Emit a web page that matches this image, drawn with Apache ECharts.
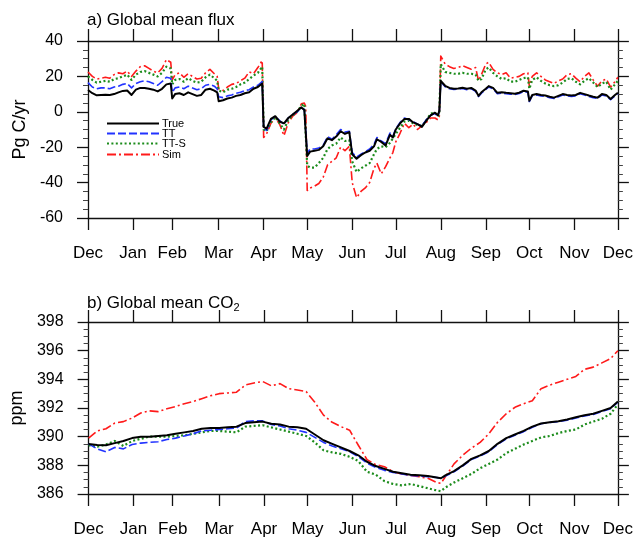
<!DOCTYPE html>
<html>
<head>
<meta charset="utf-8">
<script src="https://cdn.jsdelivr.net/npm/echarts@6/dist/echarts.min.js"></script>
<style>
  html, body { margin: 0; padding: 0; background: #fff; }
  #chart { width: 636px; height: 538px; }
</style>
</head>
<body>
<div id="chart"></div>
<script>
// Day offsets from 1 December; tick positions for the month boundaries
const monthTicks = [0, 31, 58, 90, 121, 151, 182, 212, 243, 274, 304, 335, 365];
const monthLabels = ['Dec', 'Jan', 'Feb', 'Mar', 'Apr', 'May', 'Jun', 'Jul', 'Aug', 'Sep', 'Oct', 'Nov', 'Dec'];

const fluxTicks = [-60, -40, -20, 0, 20, 40];
const co2Ticks = [386, 388, 390, 392, 394, 396, 398];

// Panel a) global mean flux (Pg C/yr)
const fluxDays = [
  0, 3, 6, 9, 12, 15, 18, 21, 24, 27, 30, 33, 36, 39, 42, 45, 48, 51, 54, 57,
  58, 60, 63, 66, 69, 72, 75, 78, 81, 84, 87, 89,
  90, 93, 96, 99, 102, 105, 108, 111, 114, 117, 120,
  121, 123, 126, 129, 132, 135, 138, 141, 144, 147, 149, 150,
  151, 153, 156, 159, 162, 165, 168, 171, 174, 177, 180, 181,
  182, 185, 188, 191, 194, 197, 199, 202, 205, 208, 210, 212,
  215, 218, 221, 224, 227, 230, 233, 236, 239, 241, 242,
  243, 246, 249, 252, 255, 258, 261, 264, 267, 269, 271, 274, 276, 279, 282, 285, 288, 291, 294, 297, 300, 303,
  304, 306, 309, 312, 315, 318, 321, 324, 327, 330, 333, 336, 339, 342, 345, 348, 351, 354, 357, 360, 363, 365
];
const fluxTrue = [
  12.3, 10.5, 9.3, 9.5, 9.7, 9.5, 10, 11, 11.8, 12, 9.5, 12.5, 13.5, 13.5, 13, 12.5, 11.5, 13, 15.5, 16,
  7.5, 10, 10.5, 9.5, 11, 10, 9, 9.5, 12.5, 13, 12, 11,
  6, 6.5, 7.5, 8, 9, 9.5, 10.5, 11, 13, 14, 16,
  -8.5, -9.5, -4, -2.5, -5.5, -6.5, -3.5, -1.5, 0.5, 2.5, 1, 0.5,
  -25, -22.5, -22, -21.5, -19.5, -15, -16, -14, -11, -12.5, -11.5, -11,
  -24, -26.5, -24.5, -23, -22, -19.5, -15.5, -17, -19, -13, -14.5, -10,
  -6.5, -4, -4, -6, -7, -8.5, -5, -2, -0.5, -2, 0.6,
  17.5, 14.7, 13.5, 13, 13.2, 13.6, 13, 13.5, 12, 9, 11, 13, 14.5, 13.5, 10.7, 11, 10.7, 10.5, 10.2, 10.8, 11.9, 11.5,
  6.2, 9.5, 10, 9.5, 9.2, 8.5, 8, 9, 10, 9.5, 9.2, 9.5, 10.7, 10, 9.2, 8.5, 8, 10, 9.5, 7.2, 9.5, 10.8
];
const fluxTT = [
  16.5, 14, 13, 13.5, 13.5, 13, 14, 14.5, 15.5, 16, 13.5, 16, 17, 17.5, 17, 16, 15, 17, 19.5, 19,
  11, 13.5, 14, 13, 14.5, 13.5, 12.5, 13, 15, 15.5, 14.5, 13,
  8.5, 8, 9, 9.5, 10.5, 11, 12, 12.5, 14, 15, 17,
  -9.5, -10.5, -4.5, -2.5, -5, -7, -3.5, -1.5, 0, 2, 1.5, 0.5,
  -23.5, -21, -21, -20.5, -19, -14, -15.5, -13, -10, -11.5, -11, -11.5,
  -23, -25.5, -24, -22.5, -21, -18.5, -14.5, -16.5, -18, -12, -14, -9.5,
  -6, -3.5, -4.5, -5.5, -7, -8, -4.5, -2, -1, -2.5, 0,
  17, 14.2, 13, 12.6, 12.8, 13.2, 12.5, 13, 11.6, 8.6, 10.5, 12.6, 14, 13, 10.2, 10.5, 10.2, 10, 9.7, 10.3, 11.4, 11,
  5.8, 9, 9.5, 9, 8.7, 8, 7.5, 8.5, 9.5, 9, 8.7, 9, 10.2, 9.5, 8.7, 8, 7.5, 9.5, 9, 6.8, 9, 10.4
];
const fluxTTS = [
  20, 18, 16.5, 17, 17.5, 17, 18.5, 19, 20, 21, 18, 21, 22.5, 23, 22, 21, 20, 22, 25.5, 24.5,
  15.5, 18, 18.5, 17, 19, 17.5, 16.5, 17, 19.5, 21, 19, 17.5,
  12, 11, 12.5, 13, 14, 15.5, 16.5, 18.5, 20.5, 22, 25.5,
  -10, -11, -6, -3, -6.5, -10, -4.5, -2, 0, 3.5, 4.5, 4,
  -30.5, -31.5, -31.5, -29, -26, -21, -19, -18, -14.5, -16.5, -16, -16.5,
  -28, -34, -32, -30.5, -29, -24, -21, -19.5, -20, -17.5, -15, -12.5,
  -9, -5.5, -5, -6.5, -7.5, -8, -5, -1, -0.5, -2.5, -1,
  27, 22.5, 22, 21.5, 21.5, 22, 21.5, 21.5, 21, 17.5, 18.5, 24, 25, 22, 20, 18.5, 19, 17, 17, 18, 19, 19.5,
  13, 18, 19.5, 17.5, 16, 15, 14.5, 15, 16.5, 18.5, 19, 17, 15.5, 17.5, 19, 16.5, 14, 16, 17, 12.5, 15.5, 17.5
];
const fluxSim = [
  22.5, 20, 18.5, 19, 19.5, 19, 21, 22, 21.5, 23, 20, 23, 25.5, 26, 24.5, 23, 22, 24.5, 29.5, 28,
  18, 21, 22, 19.5, 21.5, 20, 18.5, 19, 22, 24, 21.5, 20,
  13, 12, 14, 15.5, 16, 17.5, 19, 22.5, 21.5, 25, 29,
  -14.5, -12.5, -6.5, -3.5, -7, -13.5, -6, -2.5, -0.5, 4.5, 5, 3,
  -44.5, -43, -42, -40.5, -37, -30, -28, -26, -20, -22, -19.5, -20,
  -40, -48.5, -45, -43, -40, -32, -29, -35, -31, -26, -23, -17,
  -12, -6.5, -9, -7, -10, -8, -6, -3.5, -3.5, -4.5, -2.5,
  31.5, 27, 25.5, 24.5, 25, 26, 25, 24, 25, 17.5, 21, 27, 28, 24, 22, 21, 22, 19, 19.5, 20, 21.5, 22,
  14.5, 20, 22, 20, 18, 17, 16, 17.5, 18.5, 21, 21.5, 19, 17, 20, 22, 18, 14.5, 17.5, 18.5, 14, 17, 19.5
];

// Panel b) global mean CO2 (ppm)
const co2Days = [
  0, 6, 12, 18, 24, 30, 36, 42, 48, 54, 60, 66, 72, 78, 84, 90, 96, 102, 108, 114,
  120, 126, 132, 138, 144, 150, 156, 162, 168, 174, 180, 186, 192, 198, 204, 210, 216, 222, 228, 234,
  240, 243, 246, 252, 258, 264, 270, 276, 282, 288, 294, 300, 306, 312, 318, 324, 330, 336, 342, 348,
  354, 360, 365
];
const co2True = [
  389.48, 389.42, 389.4, 389.55, 389.7, 389.9, 390.0, 390.0, 390.05, 390.1, 390.2, 390.3, 390.4, 390.55, 390.6, 390.6, 390.65, 390.7, 390.95, 391.0,
  391.05, 390.9, 390.85, 390.7, 390.65, 390.55, 390.15, 389.75, 389.5, 389.25, 389.0, 388.7, 388.25, 387.95, 387.75, 387.55, 387.45, 387.35, 387.3, 387.25,
  387.15, 387.1, 387.3, 387.6, 388.0, 388.45, 388.7, 389.0, 389.5, 389.9, 390.15, 390.4, 390.7, 390.92, 391.0, 391.07, 391.2, 391.35, 391.5, 391.6,
  391.8, 392.0, 392.45
];
const co2TT = [
  389.5, 389.15, 388.95, 389.25, 389.15, 389.45, 389.55, 389.6, 389.65, 389.8, 389.9, 390.05, 390.2, 390.4, 390.45, 390.5, 390.55, 390.6, 391.05, 391.1,
  391.1, 390.85, 390.75, 390.55, 390.45, 390.3, 389.95, 389.6, 389.35, 389.15, 388.95, 388.6, 388.15, 387.85, 387.65, 387.5, 387.4, 387.3, 387.25, 387.2,
  387.15, 387.1, 387.25, 387.55, 387.95, 388.4, 388.65, 388.95, 389.45, 389.85, 390.1, 390.35, 390.65, 390.9, 391.0, 391.05, 391.15, 391.3, 391.45, 391.55,
  391.75, 391.95, 392.4
];
const co2TTS = [
  389.4, 389.3, 389.45, 389.7, 389.35, 389.7, 389.85, 390.0, 390.0, 390.0, 390.05, 390.1, 390.2, 390.3, 390.4, 390.4, 390.35, 390.3, 390.7, 390.75,
  390.8, 390.65, 390.5, 390.35, 390.2, 390.05, 389.6, 389.05, 388.9, 388.8, 388.6, 388.3, 387.55, 387.35, 386.9, 386.7, 386.6, 386.7, 386.55, 386.4,
  386.25, 386.2, 386.45, 386.8, 387.1, 387.4, 387.8, 388.1, 388.4, 388.85, 389.15, 389.45, 389.7, 389.95, 390.05, 390.25, 390.4, 390.5, 390.85, 391.05,
  391.25, 391.6, 392.25
];
const co2Sim = [
  389.9, 390.4, 390.55, 390.95, 391.05, 391.3, 391.65, 391.8, 391.75, 391.95, 392.1, 392.3, 392.45, 392.65, 392.85, 393.0, 393.05, 393.1, 393.6, 393.75,
  393.85, 393.55, 393.7, 393.35, 393.25, 393.15, 392.4, 391.5, 391.0, 390.7, 390.45, 389.4, 388.4, 388.05, 387.9, 387.55, 387.4, 387.3, 387.2, 387.1,
  386.8, 386.75, 387.2, 388.1, 388.7, 389.2, 389.6, 390.2, 391.0, 391.6, 392.05, 392.3, 392.5, 393.35, 393.6, 393.8, 394.0, 394.2, 394.7, 394.85,
  395.15, 395.45, 396.0
];

const FONT = 'Liberation Sans, Arial, Helvetica, sans-serif';
const INK = '#111';

const styles = {
  'True': { color: '#000000', width: 2.0, type: 'solid' },
  'TT':   { color: '#2233ff', width: 1.6, type: [8, 3] },
  'TT-S': { color: '#1c8c1c', width: 2.2, type: [2, 2.4] },
  'Sim':  { color: '#ff1a1a', width: 1.6, type: [9, 3, 2, 3] }
};

function pairs(days, vals) { return days.map((d, i) => [d, vals[i]]); }

function lineSeries(name, grid, days, vals, z) {
  const s = styles[name];
  return {
    name: name, type: 'line', xAxisIndex: grid * 2, yAxisIndex: grid * 2,
    data: pairs(days, vals), symbol: 'none', showSymbol: false,
    z: z, silent: true,
    lineStyle: { color: s.color, width: s.width, type: s.type, cap: 'butt', join: 'round' },
    itemStyle: { color: s.color }
  };
}

function monthAxes(grid) {
  const base = {
    type: 'value', gridIndex: grid, min: 0, max: 365,
    splitLine: { show: false }, minorTick: { show: false },
    axisLine: { show: true, onZero: false, lineStyle: { color: INK, width: 1.3 } },
    axisTick: { show: true, inside: false, length: 12, customValues: monthTicks,
                lineStyle: { color: INK, width: 1.3 } }
  };
  return [
    Object.assign({}, base, {
      position: 'bottom',
      axisLabel: { show: true, customValues: monthTicks, margin: 27,
                   fontFamily: FONT, fontSize: 17, color: '#000',
                   formatter: v => monthLabels[monthTicks.indexOf(v)] }
    }),
    Object.assign({}, base, { position: 'top', axisLabel: { show: false } })
  ];
}

function valueAxes(grid, ticks, name, nameGap) {
  const base = {
    type: 'value', gridIndex: grid, min: ticks[0], max: ticks[ticks.length - 1],
    interval: ticks[1] - ticks[0],
    splitLine: { show: false },
    axisLine: { show: true, onZero: false, lineStyle: { color: INK, width: 1.3 } },
    axisTick: { show: true, inside: false, length: 11, lineStyle: { color: INK, width: 1.3 } },
    minorTick: { show: true, splitNumber: 4, length: 5, lineStyle: { color: '#444', width: 1 } }
  };
  return [
    Object.assign({}, base, {
      position: 'left', name: name, nameLocation: 'middle', nameGap: nameGap,
      nameTextStyle: { fontFamily: FONT, fontSize: 18, color: '#000' },
      axisLabel: { show: true, margin: 25, fontFamily: FONT, fontSize: 16, color: '#000',
                   showMinLabel: true, showMaxLabel: true }
    }),
    Object.assign({}, base, { position: 'right', axisLabel: { show: false } })
  ];
}

// One legend block per entry so each row sits at its own height
function legendRow(name, top) {
  return {
    data: [name], left: 106, top: top, padding: 0, orient: 'horizontal',
    itemWidth: 52, itemHeight: 10, itemGap: 0, selectedMode: false,
    itemStyle: { opacity: 0, borderWidth: 0 },
    textStyle: { fontFamily: FONT, fontSize: 11, color: '#000', lineHeight: 10, padding: [0, 0, 0, -2] }
  };
}

const chart = echarts.init(document.getElementById('chart'), null, { renderer: 'canvas' });

const fx = monthAxes(0), cx = monthAxes(1);
const fy = valueAxes(0, fluxTicks, 'Pg C/yr', 52);
const cy = valueAxes(1, co2Ticks, 'ppm', 55);

chart.setOption({
  animation: false,
  backgroundColor: '#ffffff',
  textStyle: { fontFamily: FONT },
  title: [
    { text: 'a) Global mean flux', left: 87, top: 12, padding: 0,
      textStyle: { fontFamily: FONT, fontSize: 17, fontWeight: 'normal', color: '#000' } },
    { text: 'b) Global mean CO{sub|2}', left: 87, top: 293, padding: 0,
      textStyle: { fontFamily: FONT, fontSize: 17, fontWeight: 'normal', color: '#000', lineHeight: 20,
                   rich: { sub: { fontFamily: FONT, fontSize: 11, color: '#000', lineHeight: 20, verticalAlign: 'bottom', padding: [6, 0, 0, 0] } } } }
  ],
  grid: [
    { left: 88, right: 16, top: 41, height: 177 },
    { left: 88, right: 16, top: 322, height: 177 }
  ],
  legend: [
    legendRow('True', 118),
    legendRow('TT', 128),
    legendRow('TT-S', 138),
    legendRow('Sim', 149)
  ],
  xAxis: [fx[0], fx[1], cx[0], cx[1]],
  yAxis: [fy[0], fy[1], cy[0], cy[1]],
  series: [
    lineSeries('Sim', 0, fluxDays, fluxSim, 2),
    lineSeries('TT-S', 0, fluxDays, fluxTTS, 3),
    lineSeries('TT', 0, fluxDays, fluxTT, 4),
    lineSeries('True', 0, fluxDays, fluxTrue, 5),
    lineSeries('Sim', 1, co2Days, co2Sim, 2),
    lineSeries('TT-S', 1, co2Days, co2TTS, 3),
    lineSeries('TT', 1, co2Days, co2TT, 4),
    lineSeries('True', 1, co2Days, co2True, 5)
  ]
});
</script>
</body>
</html>
